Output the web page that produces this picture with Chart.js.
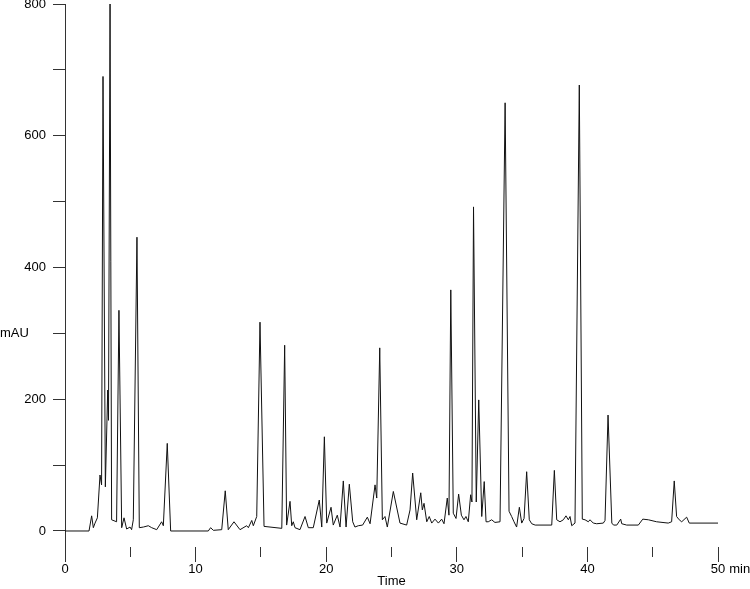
<!DOCTYPE html>
<html>
<head>
<meta charset="utf-8">
<script src="https://cdn.jsdelivr.net/npm/chart.js@4.4.1/dist/chart.umd.min.js"></script>
<style>
  html, body { margin: 0; padding: 0; background: #fff; }
  #wrap { width: 750px; height: 589px; position: relative; }
</style>
</head>
<body>
<div id="wrap"><canvas id="myChart"></canvas></div>
<script>
// retention time (min) and absorbance (mAU)
const times = [
  0, 1.84, 2.04, 2.17, 2.30, 2.48, 2.68, 2.80, 2.91, 3.09,
  3.27, 3.33, 3.45, 3.57, 3.95, 4.13, 4.34, 4.52, 4.72, 4.98,
  5.10, 5.23, 5.51, 5.69, 6.00, 6.38, 6.64, 7.02, 7.40, 7.53,
  7.83, 8.09, 10.97, 11.15, 11.36, 12.00, 12.27, 12.50, 12.94, 13.40,
  13.91, 14.04, 14.30, 14.42, 14.68, 14.93, 15.24, 16.60, 16.82, 16.97,
  17.23, 17.36, 17.48, 17.61, 17.99, 18.38, 18.63, 19.01, 19.47, 19.66,
  19.86, 20.04, 20.37, 20.54, 20.85, 21.06, 21.31, 21.52, 21.77, 22.03,
  22.20, 22.46, 22.79, 23.15, 23.36, 23.74, 23.87, 24.10, 24.30, 24.50,
  24.68, 25.14, 25.65, 26.16, 26.42, 26.62, 26.93, 27.24, 27.36, 27.49,
  27.70, 27.89, 28.08, 28.33, 28.59, 28.84, 29.02, 29.27, 29.40, 29.54,
  29.73, 29.94, 30.14, 30.35, 30.55, 30.70, 30.88, 31.06, 31.16, 31.28,
  31.49, 31.68, 31.91, 32.10, 32.24, 32.41, 32.67, 32.92, 33.31, 33.70,
  34.00, 34.20, 34.38, 34.58, 34.79, 34.97, 35.15, 35.35, 35.55, 35.74,
  36.00, 37.27, 37.47, 37.65, 37.90, 38.16, 38.36, 38.54, 38.67, 38.80,
  39.05, 39.38, 39.61, 39.82, 40.07, 40.20, 40.45, 40.71, 41.22, 41.35,
  41.58, 41.87, 42.00, 42.25, 42.55, 42.63, 43.01, 43.90, 44.24, 44.67,
  45.30, 46.19, 46.45, 46.65, 46.83, 47.03, 47.22, 47.60, 47.80, 50.00
];
const mAU = [
  0, 0, 23, 5, 12, 20, 85, 70, 690, 67,
  214, 168, 800, 17, 14, 335, 5, 20, 3, 6,
  2, 17, 446, 5, 6, 8, 5, 2, 14, 8,
  133, 0, 0, 5, 1, 2, 61, 2, 14, 2,
  8, 5, 16, 8, 22, 317, 7, 4, 282, 9,
  45, 8, 14, 5, 2, 22, 5, 5, 47, 6,
  143, 12, 36, 9, 24, 6, 76, 6, 71, 14,
  6, 8, 9, 21, 11, 70, 50, 278, 17, 22,
  6, 60, 12, 9, 32, 88, 17, 58, 32, 42,
  14, 22, 12, 18, 12, 18, 11, 50, 24, 366,
  27, 19, 56, 24, 17, 22, 14, 55, 44, 492,
  44, 199, 22, 75, 14, 14, 17, 13, 14, 650,
  30, 22, 14, 6, 36, 12, 19, 90, 17, 11,
  9, 9, 92, 17, 14, 17, 23, 17, 22, 8,
  12, 677, 18, 17, 14, 17, 12, 11, 12, 16,
  176, 12, 9, 9, 18, 11, 9, 9, 18, 17,
  14, 12, 14, 76, 22, 17, 14, 21, 12, 12
];

const xTicks = [0, 5, 10, 15, 20, 25, 30, 35, 40, 45, 50];
const yTicks = [0, 100, 200, 300, 400, 500, 600, 700, 800];
const xTitle = 'Time';
const yTitle = 'mAU';
const xUnit = 'min';

const FONT = '"Liberation Sans", Arial, sans-serif';
Chart.defaults.font.family = FONT;
Chart.defaults.font.size = 13;
Chart.defaults.color = '#000';

// axis texts that chart.js cannot place like the original
const extraText = {
  id: 'extraText',
  afterDraw(chart) {
    const { ctx } = chart;
    const x = chart.scales.x;
    const y = chart.scales.y;
    ctx.save();
    ctx.font = '13px ' + FONT;
    ctx.fillStyle = '#000';
    ctx.textBaseline = 'middle';
    ctx.textAlign = 'left';
    ctx.fillText(yTitle, 0, y.getPixelForValue(300));

    // unit after the last x label
    const last = xTicks[xTicks.length - 1];
    const px = x.getPixelForValue(last);
    const ly = x.top + 15 + 13 * 1.2 / 2;
    ctx.fillText(xUnit, px + ctx.measureText(String(last)).width / 2 + 4, ly);
    ctx.restore();
  }
};

const ctx = document.getElementById('myChart').getContext('2d');
new Chart(ctx, {
  type: 'line',
  data: {
    datasets: [{
      data: times.map((t, i) => ({ x: t, y: mAU[i] })),
      borderColor: '#111',
      borderWidth: 1,
      pointRadius: 0,
      fill: false,
      tension: 0
    }]
  },
  options: {
    animation: false,
    responsive: true,
    maintainAspectRatio: false,
    layout: { padding: { top: 4, right: 32, left: 0, bottom: 0 } },
    plugins: { legend: { display: false }, tooltip: { enabled: false } },
    scales: {
      x: {
        type: 'linear',
        min: 0,
        max: 50,
        afterBuildTicks: (s) => { s.ticks = xTicks.map(v => ({ value: v })); },
        afterFit: (s) => { s.height = 42; s.paddingLeft = 0; s.paddingRight = 0; },
        border: { display: false },
        grid: {
          drawOnChartArea: false,
          tickLength: 15,
          tickColor: '#333',
          tickBorderDash: (c) => (c.tick && c.tick.value % 10 !== 0) ? [10, 20] : []
        },
        ticks: {
          padding: 0,
          maxRotation: 0,
          autoSkip: false,
          callback: (v) => v % 10 === 0 ? String(v) : ''
        },
        title: { display: true, text: xTitle, padding: { top: 0, bottom: 0 }, font: { size: 13 } }
      },
      y: {
        type: 'linear',
        min: -24.3,
        max: 800,
        afterBuildTicks: (s) => { s.ticks = yTicks.map(v => ({ value: v })); },
        afterFit: (s) => { s.width = 65; s.paddingTop = 0; s.paddingBottom = 0; },
        border: { display: true, color: '#333', width: 1 },
        grid: { drawOnChartArea: false, tickLength: 12, tickColor: '#333' },
        ticks: {
          padding: 7,
          callback: (v) => v % 200 === 0 ? String(v) : ''
        }
      }
    }
  },
  plugins: [extraText]
});
</script>
</body>
</html>
